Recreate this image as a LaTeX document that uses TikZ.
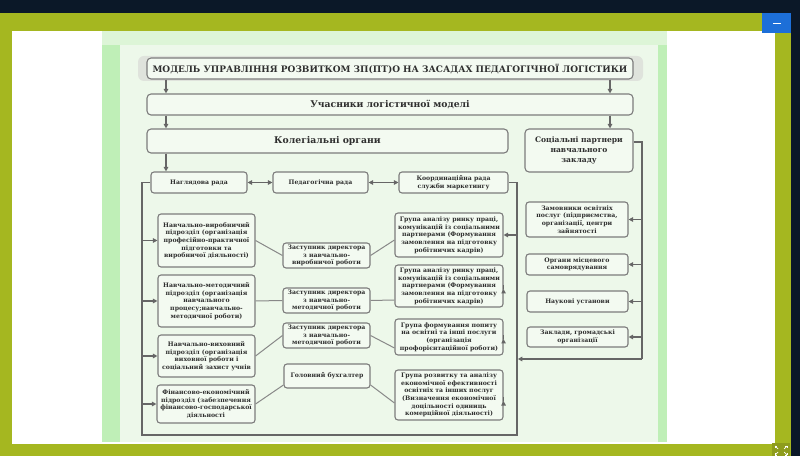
\documentclass[tikz,border=0pt]{standalone}
\usepackage{fontspec}
\setmainfont{DejaVu Serif}
\usetikzlibrary{arrows.meta,calc}
\definecolor{navy}{HTML}{0B1828}
\definecolor{olive}{HTML}{A5B720}
\definecolor{oliveD}{HTML}{8E9C1C}
\definecolor{slideG}{HTML}{BFEFB7}
\definecolor{slideTop}{HTML}{DDF5D7}
\definecolor{panel}{HTML}{EDF8EA}
\definecolor{boxfill}{HTML}{F3FAF1}
\definecolor{boxline}{HTML}{7C7C7C}
\definecolor{shadowG}{HTML}{DFE3DC}
\definecolor{wire}{HTML}{666666}
\definecolor{wireL}{HTML}{888888}
\definecolor{txt}{HTML}{2F2F2F}
\definecolor{btn}{HTML}{1D6FD8}
\newcommand\mkbox[6]{\node[#2, minimum width={(#5-#3)*1bp}, minimum height={(#6-#4)*1bp}] (#1) at ({(#3+#5)/2},{(#4+#6)/2})}
\begin{document}
\begin{tikzpicture}[x=1bp,y=-1bp,
  box/.style={draw=boxline, fill=boxfill, line width=1.1bp, rounded corners=3bp, inner sep=1bp, align=center, text=txt, font=\fontsize{6.2}{7.7}\selectfont\bfseries},
  bigbox/.style={box, rounded corners=4bp, font=\fontsize{9.3}{11}\selectfont\bfseries},
  socbox/.style={box, rounded corners=4bp, font=\fontsize{7.6}{10}\selectfont\bfseries},
  titlebox/.style={box, rounded corners=4bp, font=\fontsize{9}{11}\selectfont\bfseries},
  tip/.tip={Triangle[length=4.5bp,width=4.5bp]},
  arr/.style={draw=wire, line width=1.5bp, -tip, fill=wire},
  dbl/.style={draw=wire, line width=1.5bp, tip-tip, fill=wire},
  wireS/.style={draw=wire, line width=1.5bp},
  wthin/.style={draw=wireL, line width=1bp}]
\useasboundingbox (0,0) rectangle (800,456);
% screen background
\fill[navy] (0,0) rectangle (800,456);
\fill[olive] (0,13) rectangle (791,456);
\fill[white] (12,31) rectangle (775,444);
\fill[slideG] (102,31) rectangle (667,442);
\fill[slideTop] (102,31) rectangle (667,45);
\fill[panel] (120,45) rectangle (658,442);
\fill[btn] (762,13) rectangle (791,33);
\draw[white, line width=1bp] (773,23.5) -- (781,23.5);
\fill[oliveD] (772,443) rectangle (790,456);
\begin{scope}[white, line width=0.7bp]
  \draw (775,446) -- (778,449); \draw (775,446) -- (777,446); \draw (775,446) -- (775,448);
  \draw (787,446) -- (784,449); \draw (787,446) -- (785,446); \draw (787,446) -- (787,448);
  \draw (775,455) -- (778,452); \draw (775,455) -- (777,455); \draw (775,455) -- (775,453);
  \draw (787,455) -- (784,452); \draw (787,455) -- (785,455); \draw (787,455) -- (787,453);
\end{scope}
% title
\fill[shadowG, rounded corners=6bp] (138,56) rectangle (643,81);
\mkbox{title}{titlebox}{147}{58}{633}{79}{МОДЕЛЬ УПРАВЛІННЯ РОЗВИТКОМ ЗП(ПТ)О НА ЗАСАДАХ ПЕДАГОГІЧНОЇ ЛОГІСТИКИ};
\mkbox{part}{bigbox}{147}{94}{633}{115}{Учасники логістичної моделі};
\mkbox{kol}{bigbox}{147}{129}{508}{153}{Колегіальні органи};
\mkbox{soc}{socbox}{525}{129}{633}{172}{Соціальні партнери\\навчального\\закладу};
% row of councils
\mkbox{nahl}{box}{151}{172}{247}{193}{Наглядова рада};
\mkbox{ped}{box}{273}{172}{368}{193}{Педагогічна рада};
\mkbox{koord}{box}{399}{172}{508}{193}{Координаційна рада\\служби маркетингу};
% left column
\mkbox{nv}{box}{158}{214}{255}{267}{Навчально-виробничий\\підрозділ (організація\\професійно-практичної\\підготовки та\\виробничої діяльності)};
\mkbox{nm}{box}{158}{275}{255}{327}{Навчально-методичний\\підрозділ (організація\\навчального\\процесу;навчально-\\методичної роботи)};
\mkbox{nvh}{box}{158}{335}{255}{377}{Навчально-виховний\\підрозділ (організація\\виховної роботи і\\соціальний захист учнів};
\mkbox{nf}{box}{157}{385}{255}{423}{Фінансово-економічний\\підрозділ (забезпечення\\фінансово-господарської\\діяльності};
% middle column
\mkbox{z1}{box}{283}{243}{370}{268}{Заступник директора\\з навчально-\\виробничої роботи};
\mkbox{z2}{box}{283}{288}{370}{313}{Заступник директора\\з навчально-\\методичної роботи};
\mkbox{z3}{box}{283}{323}{370}{348}{Заступник директора\\з навчально-\\методичної роботи};
\mkbox{zb}{box}{284}{364}{370}{388}{Головний бухгалтер};
% group column
\mkbox{g1}{box}{395}{213}{503}{257}{Група аналізу ринку праці,\\комунікацій із соціальними\\партнерами (Формування\\замовлення на підготовку\\робітничих кадрів)};
\mkbox{g2}{box}{395}{265}{503}{307}{Група аналізу ринку праці,\\комунікацій із соціальними\\партнерами (Формування\\замовлення на підготовку\\робітничих кадрів)};
\mkbox{g3}{box}{395}{319}{503}{355}{Група формування попиту\\на освітні та інші послуги\\(організація\\профорієнтаційної роботи)};
\mkbox{g4}{box}{395}{370}{503}{420}{Група розвитку та аналізу\\економічної ефективності\\освітніх та інших послуг\\(Визначення економічної\\доцільності одиниць\\комерційної діяльності)};
% social partners column
\mkbox{s1}{box}{526}{202}{628}{237}{Замовники освітніх\\послуг (підприємства,\\організації, центри\\зайнятості};
\mkbox{s2}{box}{526}{254}{628}{275}{Органи місцевого\\самоврядування};
\mkbox{s3}{box}{527}{291}{628}{312}{Наукові установи};
\mkbox{s4}{box}{527}{327}{628}{347}{Заклади, громадські\\організації};
% vertical arrows
\coordinate (xl) at (166,0);
\coordinate (xr) at (610,0);
\draw[arr] (title.south -| xl) -- (part.north -| xl);
\draw[arr] (title.south -| xr) -- (part.north -| xr);
\draw[arr] (part.south -| xl) -- (kol.north -| xl);
\draw[arr] (part.south -| xr) -- (soc.north -| xr);
\draw[arr] (kol.south -| xl) -- (nahl.north -| xl);
\draw[dbl] (nahl) -- (ped);
\draw[dbl] (ped) -- (koord);
% frame of the collegial bodies
\coordinate (LL) at (142,435);
\coordinate (LR) at (517,435);
\draw[wireS] (nahl.west) -| (LL) -- (LR) |- (koord.east);
\foreach \n in {nv,nm,nvh,nf} \draw[arr] (\n.west -| LL) -- (\n.west);
\draw[arr] (g1.east -| LR) -- (g1.east);
\draw[arr] ($(g2.east)+(0,3)$ -| LR) -- ($(g2.east)+(0,3)$);
\draw[arr] ($(g3.east)+(0,2)$ -| LR) -- ($(g3.east)+(0,2)$);
\draw[arr] ($(g4.east)+(0,6)$ -| LR) -- ($(g4.east)+(0,6)$);
% social partners line
\coordinate (SR) at (642,142);
\coordinate (SB) at (642,359);
\draw[wireS] (soc.east |- SR) -- (SR) -- (SB);
\draw[arr, shorten >=0.8bp] (SB) -- (SB -| LR);
\foreach \n in {s1,s2,s3,s4} \draw[arr] (\n.east -| SR) -- (\n.east);
% links between units, deputies and groups
\draw[wthin] (nv.east) -- (z1.west);
\draw[wthin] (z1.east) -- ($(g1.west)+(0,5)$);
\draw[wthin] (nm.east) -- (z2.west);
\draw[wthin] (z2.east) -- ($(g2.west)+(0,14)$);
\draw[wthin] (nvh.east) -- (z3.west);
\draw[wthin] (z3.east) -- ($(g3.west)+(0,11)$);
\draw[wthin] (nf.east) -- ($(zb.west)+(0,9)$);
\draw[wthin] ($(zb.east)+(0,9)$) -- ($(g4.west)+(0,8)$);
\end{tikzpicture}
\end{document}
